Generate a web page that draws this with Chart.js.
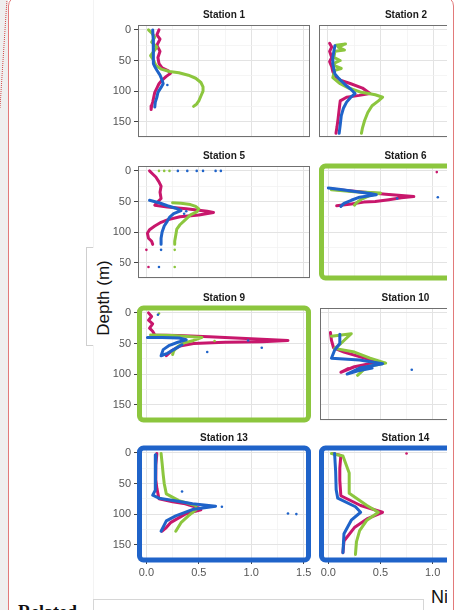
<!DOCTYPE html>
<html>
<head>
<meta charset="utf-8">
<script src="https://cdn.jsdelivr.net/npm/chart.js@4.4.1/dist/chart.umd.min.js"></script>
<style>
  html, body { margin: 0; padding: 0; width: 464px; height: 610px; overflow: hidden; background: #fff; }
  body { position: relative; font-family: "Liberation Sans", Arial, sans-serif; }
  #strip { position: absolute; left: 0; top: 0; width: 8px; height: 610px; background: #efefef; }
  #dotted { position: absolute; left: 3px; top: -2px; height: 110px; border-left: 1px dotted #d24a4a; transform: rotate(3.7deg); }
  #card { position: absolute; left: 8px; top: -4px; width: 444px; height: 700px; border: 1.5px solid #e27a7a; border-radius: 10px; background: #fff; }
  #edge { position: absolute; left: 93px; top: 0; width: 1px; height: 599px; background: #f3f3f3; }
  #figure { position: absolute; left: 93px; top: 0; width: 354px; height: 599px; overflow: hidden; }
  #figure canvas { position: absolute; }
  #depthBox { position: absolute; left: 86px; top: 247px; width: 6px; height: 97px; background: #fff; border: 1px solid #cfcfcf; border-right: none; }
  #depthPatch { position: absolute; left: 93px; top: 248px; width: 27px; height: 97px; background: #fff; }
  #depthLabel { position: absolute; left: 104px; top: 298px; transform: translate(-50%, -50%) rotate(-90deg); font-size: 17px; color: #111; white-space: nowrap; }
  #niClip { position: absolute; left: 431px; top: 586px; width: 16px; height: 24px; overflow: hidden; }
  #ni { font-size: 18px; line-height: 18px; color: #111; white-space: nowrap; margin-top: 2px; }
  #related { position: absolute; left: 18px; top: 603px; font-family: "Liberation Serif", serif; font-weight: bold; font-size: 18px; line-height: 18px; color: #111; white-space: nowrap; }
  #box { position: absolute; left: 93px; top: 599px; width: 329px; height: 30px; border: 1px solid #d6d6d6; background: #fff; }
</style>
</head>
<body>
<div id="strip"></div>
<div id="dotted"></div>
<div id="card"></div>
<div id="edge"></div>
<div id="figure"></div>
<div id="depthBox"></div>
<div id="depthPatch"></div>
<div id="depthLabel">Depth (m)</div>
<div id="niClip"><div id="ni">Ni</div></div>
<div id="related">Related</div>
<div id="box"></div>
<script>
// [Ni, depth] pairs
const s1Pink = [[0.12,0],[0.10,8],[0.13,15],[0.10,25],[0.13,35],[0.11,45],[0.12,55],[0.15,62],[0.21,67],[0.23,71],[0.19,76],[0.15,82],[0.12,88],[0.10,95],[0.08,102],[0.07,110],[0.06,118],[0.05,124],[0.045,130]];
const s1Green = [[0.02,0],[0.05,5],[0.08,12],[0.05,20],[0.10,28],[0.07,35],[0.04,42],[0.07,50],[0.09,58],[0.14,64],[0.22,68],[0.31,70],[0.40,74],[0.47,79],[0.52,86],[0.54,93],[0.54,100],[0.52,108],[0.50,116],[0.48,121],[0.45,125]];
const s1Blue = [[0.06,0],[0.065,15],[0.065,30],[0.065,45],[0.07,55],[0.08,60],[0.10,66],[0.13,74],[0.15,82],[0.16,88],[0.14,94],[0.11,102],[0.10,110],[0.085,118],[0.08,126]];
const s1BlueDots = [[0.20,90]];

const s2Pink = [[0.02,22],[0.04,28],[0.02,35],[0.04,45],[0.02,52],[0.04,60],[0.05,68],[0.07,75],[0.12,82],[0.22,88],[0.33,95],[0.40,104],[0.30,107],[0.18,110],[0.12,116],[0.11,130],[0.10,145],[0.09,158],[0.08,169]];
const s2Green = [[0.08,25],[0.17,23],[0.10,28],[0.16,33],[0.07,35],[0.06,45],[0.12,50],[0.07,54],[0.06,58],[0.13,63],[0.07,66],[0.05,78],[0.12,88],[0.20,95],[0.32,102],[0.45,106],[0.52,110],[0.48,116],[0.42,124],[0.38,135],[0.35,148],[0.33,160],[0.32,169]];
const s2Blue = [[0.07,26],[0.06,35],[0.05,45],[0.05,55],[0.06,65],[0.07,72],[0.11,80],[0.17,90],[0.22,97],[0.26,104],[0.22,110],[0.18,118],[0.15,128],[0.13,140],[0.12,155],[0.11,169]];

const s5Pink = [[0.03,0],[0.06,5],[0.09,10],[0.12,18],[0.14,25],[0.13,35],[0.14,45],[0.10,52],[0.08,56],[0.20,59],[0.38,62],[0.58,66],[0.64,68],[0.50,72],[0.32,75],[0.20,80],[0.14,84],[0.08,90],[0.03,96],[0.01,102],[0.02,110],[0.05,115],[0.06,120]];
const s5Green = [[0.25,52],[0.33,53],[0.42,55],[0.47,58],[0.50,62],[0.48,67],[0.42,72],[0.37,80],[0.32,88],[0.29,95],[0.28,105],[0.27,115],[0.27,120]];
const s5Blue = [[0.03,48],[0.12,52],[0.20,57],[0.28,61],[0.33,65],[0.26,70],[0.22,76],[0.20,82],[0.17,90],[0.15,100],[0.14,110],[0.14,120]];
const s5PinkDots = [[0.0,129],[0.02,157]];
const s5GreenDots = [[0.12,0],[0.17,0],[0.22,0],[0.27,129],[0.27,157]];
const s5BlueDots = [[0.30,0],[0.39,0],[0.48,0],[0.54,0],[0.66,0],[0.71,0],[0.14,129],[0.12,157],[0.38,66],[0.36,70]];

const s6Pink = [[0.05,30],[0.30,34],[0.55,38],[0.82,42],[0.70,44],[0.58,47],[0.45,50],[0.34,51],[0.22,54],[0.08,57]];
const s6Green = [[0.03,31],[0.25,34],[0.50,36],[0.40,40],[0.32,46],[0.27,52],[0.25,56]];
const s6Blue = [[0.0,28],[0.10,30],[0.22,33],[0.40,37],[0.46,39],[0.30,43],[0.22,48],[0.15,53],[0.12,58]];
const s6PinkDots = [[1.04,2]];
const s6BlueDots = [[0.66,45],[1.05,43]];

const s9Pink = [[0.02,0],[0.05,6],[0.02,12],[0.06,18],[0.03,25],[0.06,30],[0.08,36],[0.30,37],[0.60,39],[0.95,42],[1.35,45],[1.10,47],[0.75,48],[0.45,50],[0.32,54],[0.24,62],[0.19,70]];
const s9Green = [[0.04,36],[0.25,37],[0.53,40],[0.45,45],[0.36,49],[0.30,55],[0.26,62],[0.25,68]];
const s9Blue = [[0.01,40],[0.15,40],[0.31,41],[0.38,44],[0.30,48],[0.22,53],[0.16,60],[0.14,70],[0.20,66],[0.28,58],[0.34,52]];
const s9GreenDots = [[0.65,46],[0.12,1]];
const s9BlueDots = [[0.58,64],[0.97,45],[1.10,57],[0.11,3]];

const s10Pink = [[0.02,32],[0.03,45],[0.05,57],[0.15,64],[0.37,75],[0.53,82],[0.37,84],[0.25,88],[0.12,97],[0.19,91]];
const s10Green = [[0.03,38],[0.22,34],[0.12,50],[0.06,58],[0.25,64],[0.40,74],[0.55,82],[0.37,88],[0.28,102]];
const s10Blue = [[0.11,35],[0.11,50],[0.06,61],[0.03,74],[0.30,77],[0.52,83],[0.30,90],[0.18,100],[0.30,94],[0.42,90]];
const s10BlueDots = [[0.80,93]];

const s13Pink = [[0.10,1],[0.09,20],[0.09,44],[0.10,58],[0.12,75],[0.25,80],[0.37,83],[0.50,90],[0.52,93],[0.37,100],[0.23,114],[0.19,122],[0.15,128]];
const s13Green = [[0.14,1],[0.15,17],[0.16,35],[0.17,50],[0.19,67],[0.31,78],[0.47,86],[0.48,92],[0.40,103],[0.33,114],[0.28,128]];
const s13Blue = [[0.09,3],[0.085,30],[0.085,61],[0.06,69],[0.12,74],[0.30,79],[0.44,83],[0.66,87],[0.45,92],[0.28,103],[0.19,111],[0.14,128]];
const s13BlueDots = [[0.72,88],[0.34,63],[1.35,99],[1.43,100]];

const s14Pink = [[0.04,1],[0.12,4],[0.11,25],[0.11,45],[0.12,70],[0.31,86],[0.52,97],[0.37,108],[0.25,122],[0.15,144],[0.14,163]];
const s14Green = [[0.03,1],[0.14,5],[0.20,33],[0.20,66],[0.37,86],[0.48,97],[0.37,110],[0.30,127],[0.27,145],[0.26,166]];
const s14Blue = [[0.06,1],[0.07,30],[0.075,60],[0.09,74],[0.26,88],[0.31,97],[0.22,110],[0.15,132],[0.14,163]];
const s14PinkDots = [[0.75,1]];

const xTickLabels = ["0.0", "0.5", "1.0", "1.5"];
const yTickLabels = ["0", "50", "100", "150"];

const PINK = "#c8176c";
const GREEN = "#8cc63e";
const BLUE = "#1f63c9";

const stations = [
  { title: "Station 1", row: 0, col: 0, pink: s1Pink, green: s1Green, blue: s1Blue, blueDots: s1BlueDots },
  { title: "Station 2", row: 0, col: 1, pink: s2Pink, green: s2Green, blue: s2Blue },
  { title: "Station 5", row: 1, col: 0, pink: s5Pink, green: s5Green, blue: s5Blue, pinkDots: s5PinkDots, greenDots: s5GreenDots, blueDots: s5BlueDots },
  { title: "Station 6", row: 1, col: 1, pink: s6Pink, green: s6Green, blue: s6Blue, pinkDots: s6PinkDots, blueDots: s6BlueDots, frame: GREEN },
  { title: "Station 9", row: 2, col: 0, pink: s9Pink, green: s9Green, blue: s9Blue, greenDots: s9GreenDots, blueDots: s9BlueDots, frame: GREEN },
  { title: "Station 10", row: 2, col: 1, pink: s10Pink, green: s10Green, blue: s10Blue, blueDots: s10BlueDots },
  { title: "Station 13", row: 3, col: 0, pink: s13Pink, green: s13Green, blue: s13Blue, blueDots: s13BlueDots, frame: BLUE },
  { title: "Station 14", row: 3, col: 1, pink: s14Pink, green: s14Green, blue: s14Blue, pinkDots: s14PinkDots, frame: BLUE },
];

const panelTops = [25, 166, 308, 448];
const colLefts = [5, 223];   // canvas left inside #figure
const yAxisWidth = [40, 3];
const PANEL_W = 174;
const PANEL_H = 112;
const TITLE_H = 20;

Chart.defaults.font.family = '"Liberation Sans", Arial, sans-serif';

const isMajor = (v, step) => Math.abs(v / step - Math.round(v / step)) < 1e-6;

function toXY(arr) {
  return (arr || []).map(([ni, depth]) => ({ x: ni, y: depth }));
}

function roundRectPath(ctx, x, y, w, h, r) {
  ctx.beginPath();
  ctx.moveTo(x + r, y);
  ctx.lineTo(x + w - r, y);
  ctx.arcTo(x + w, y, x + w, y + r, r);
  ctx.lineTo(x + w, y + h - r);
  ctx.arcTo(x + w, y + h, x + w - r, y + h, r);
  ctx.lineTo(x + r, y + h);
  ctx.arcTo(x, y + h, x, y + h - r, r);
  ctx.lineTo(x, y + r);
  ctx.arcTo(x, y, x + r, y, r);
  ctx.closePath();
}

const panelPlugin = {
  id: "panel",
  afterDraw(chart, args, opts) {
    const { ctx, chartArea: a } = chart;
    ctx.save();
    if (opts.frame) {
      ctx.strokeStyle = opts.frame;
      ctx.lineWidth = 5;
      roundRectPath(ctx, a.left + 1.5, a.top, a.width - 3, a.height, 4);
      ctx.stroke();
    } else {
      ctx.strokeStyle = "#707070";
      ctx.lineWidth = 1;
      ctx.strokeRect(a.left + 0.5, a.top + 0.5, a.width - 1, a.height - 1);
    }
    ctx.restore();
  },
};

function lineSet(data, color) {
  return {
    data: toXY(data),
    showLine: true,
    borderColor: color,
    borderWidth: 3,
    borderJoinStyle: "round",
    borderCapStyle: "round",
    pointRadius: 0,
    tension: 0,
    fill: false,
  };
}

function dotSet(data, color) {
  return {
    data: toXY(data),
    showLine: false,
    pointRadius: 1.3,
    pointBorderWidth: 0,
    pointBackgroundColor: color,
  };
}

const figure = document.getElementById("figure");

for (const st of stations) {
  const bottomRow = st.row === 3;
  const leftCol = st.col === 0;
  const xAxisH = bottomRow ? 20 : 4;
  const width = yAxisWidth[st.col] + PANEL_W + 2;
  const height = TITLE_H + PANEL_H + xAxisH;

  const canvas = document.createElement("canvas");
  canvas.width = width;
  canvas.height = height;
  canvas.style.left = colLefts[st.col] + "px";
  canvas.style.top = (panelTops[st.row] - TITLE_H) + "px";
  figure.appendChild(canvas);

  new Chart(canvas, {
    type: "scatter",
    data: {
      datasets: [
        lineSet(st.blue, BLUE),
        dotSet(st.blueDots, BLUE),
        lineSet(st.green, GREEN),
        dotSet(st.greenDots, GREEN),
        lineSet(st.pink, PINK),
        dotSet(st.pinkDots, PINK),
      ],
    },
    options: {
      responsive: false,
      animation: false,
      devicePixelRatio: 1,
      layout: { padding: { top: 0, left: 0, right: 2, bottom: 0 } },
      events: [],
      plugins: {
        legend: { display: false },
        tooltip: { enabled: false },
        title: {
          display: true,
          text: st.title,
          fullSize: false,
          color: "#1a1a1a",
          font: { size: 10, weight: "bold", lineHeight: 1.2 },
          padding: { top: 4, bottom: 4 },
        },
        panel: { frame: st.frame || null },
      },
      scales: {
        x: {
          type: "linear",
          min: -0.08,
          max: 1.56,
          border: { display: false },
          grid: {
            color: (c) => (isMajor(c.tick.value, 0.5) ? "#e3e3e3" : "#f1f1f1"),
            lineWidth: (c) => (isMajor(c.tick.value, 0.5) ? 1 : 0.7),
            drawTicks: bottomRow,
            tickLength: 4,
            tickColor: (c) => (isMajor(c.tick.value, 0.5) ? "#444" : "rgba(0,0,0,0)"),
          },
          ticks: {
            display: bottomRow,
            stepSize: 0.25,
            includeBounds: false,
            autoSkip: false,
            maxRotation: 0,
            padding: 2,
            color: "#555",
            font: { size: 11 },
            callback: (v) => (isMajor(v, 0.5) ? xTickLabels[Math.round(v / 0.5)] : ""),
          },
          afterFit(scale) {
            scale.height = xAxisH;
            scale.paddingLeft = 0;
            scale.paddingRight = 0;
          },
        },
        y: {
          type: "linear",
          reverse: true,
          min: -8,
          max: 175,
          border: { display: false },
          grid: {
            color: (c) => (isMajor(c.tick.value, 50) ? "#e3e3e3" : "#f1f1f1"),
            lineWidth: (c) => (isMajor(c.tick.value, 50) ? 1 : 0.7),
            drawTicks: leftCol,
            tickLength: 4,
            tickColor: (c) => (isMajor(c.tick.value, 50) ? "#444" : "rgba(0,0,0,0)"),
          },
          ticks: {
            display: leftCol,
            stepSize: 25,
            includeBounds: false,
            autoSkip: false,
            padding: 3,
            color: "#555",
            font: { size: 11 },
            callback: (v) => (isMajor(v, 50) ? yTickLabels[Math.round(v / 50)] : ""),
          },
          afterFit(scale) {
            scale.width = yAxisWidth[st.col];
            scale.paddingTop = 0;
            scale.paddingBottom = 0;
          },
        },
      },
    },
    plugins: [panelPlugin],
  });
}
</script>
</body>
</html>
